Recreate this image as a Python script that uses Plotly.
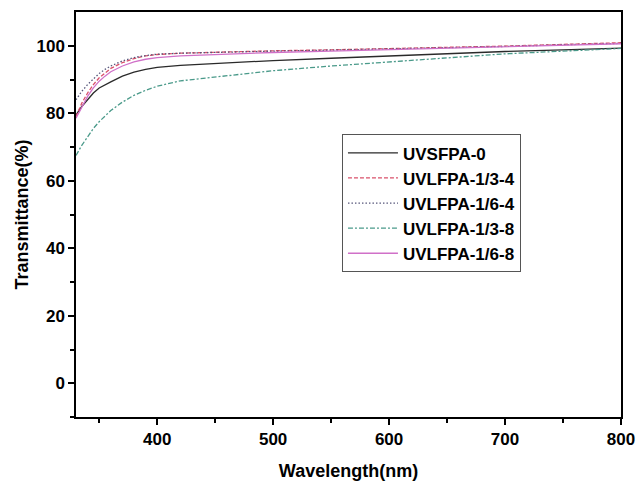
import plotly.graph_objects as go

wavelength = [330, 335, 340, 345, 350, 355, 360, 370, 380, 390, 400, 420, 440, 460, 500, 550, 600, 650, 700, 750, 800]

uvsfpa_0 = [79.5, 82.0, 84.0, 86.0, 87.5, 88.5, 89.3, 91.0, 92.2, 93.0, 93.6, 94.2, 94.6, 95.0, 95.6, 96.3, 97.0, 97.6, 98.3, 98.8, 99.3]
uvlfpa_13_4 = [79.0, 83.0, 86.0, 88.5, 90.5, 92.0, 93.3, 95.0, 96.2, 97.0, 97.4, 97.8, 98.0, 98.2, 98.5, 98.8, 99.1, 99.5, 99.9, 100.4, 100.9]
uvlfpa_16_4 = [84.0, 86.5, 88.5, 90.3, 91.8, 93.0, 94.0, 95.5, 96.5, 97.1, 97.5, 97.8, 98.0, 98.1, 98.4, 98.7, 99.0, 99.4, 99.8, 100.3, 100.7]
uvlfpa_13_8 = [67.5, 70.5, 73.0, 75.5, 77.5, 79.3, 80.8, 83.3, 85.3, 86.8, 88.0, 89.6, 90.4, 91.0, 92.6, 94.0, 95.3, 96.4, 97.6, 98.5, 99.2]
uvlfpa_16_8 = [78.5, 82.0, 85.0, 87.5, 89.5, 91.0, 92.3, 94.0, 95.2, 96.0, 96.5, 97.0, 97.3, 97.6, 98.0, 98.4, 98.8, 99.2, 99.7, 100.2, 100.6]

series = [
    ("UVSFPA-0", uvsfpa_0, "#2a2a2a", "solid"),
    ("UVLFPA-1/3-4", uvlfpa_13_4, "#d9506a", "4px,2px"),
    ("UVLFPA-1/6-4", uvlfpa_16_4, "#55557a", "1.5px,2px"),
    ("UVLFPA-1/3-8", uvlfpa_13_8, "#4a9a8a", "5px,2px,2px,2px"),
    ("UVLFPA-1/6-8", uvlfpa_16_8, "#d070c8", "solid"),
]

fig = go.Figure()
for name, vals, color, dash in series:
    fig.add_trace(go.Scatter(x=wavelength, y=vals, mode="lines", name=name,
                             line=dict(color=color, width=1.3, dash=dash)))

font_family = "Liberation Sans, Arial, sans-serif"
fig.update_layout(
    width=639, height=483,
    margin=dict(l=76, r=18, t=12, b=66),
    paper_bgcolor="white", plot_bgcolor="white",
    font=dict(family=font_family, color="black"),
    showlegend=True,
    legend=dict(
        x=0.488, y=0.698, xanchor="left", yanchor="top",
        bgcolor="white", bordercolor="#555555", borderwidth=1,
        font=dict(size=17, family=font_family, weight="bold", color="black"),
        itemwidth=50, tracegroupgap=0,
    ),
    xaxis=dict(
        range=[330, 800], tickvals=[400, 500, 600, 700, 800],
        showgrid=False, zeroline=False, automargin=False,
        showline=True, linecolor="black", linewidth=1.5, mirror=True,
        ticks="outside", ticklen=6, tickwidth=1.5, tickcolor="black",
        tickfont=dict(size=17, family=font_family, weight="bold"),
        minor=dict(tickvals=[350, 450, 550, 650, 750], ticks="outside", ticklen=4, tickwidth=1.5, tickcolor="black"),
        title=dict(text="Wavelength(nm)", font=dict(size=18, family=font_family, weight="bold"), standoff=16),
    ),
    yaxis=dict(
        range=[-10, 110], tickvals=[0, 20, 40, 60, 80, 100],
        showgrid=False, zeroline=False, automargin=False,
        showline=True, linecolor="black", linewidth=1.5, mirror=True,
        ticks="outside", ticklen=6, tickwidth=1.5, tickcolor="black",
        tickfont=dict(size=17, family=font_family, weight="bold"),
        minor=dict(tickvals=[-10, 10, 30, 50, 70, 90], ticks="outside", ticklen=4, tickwidth=1.5, tickcolor="black"),
        title=dict(text="Transmittance(%)", font=dict(size=18, family=font_family, weight="bold"), standoff=3),
    ),
)

fig.write_html("out.html")
